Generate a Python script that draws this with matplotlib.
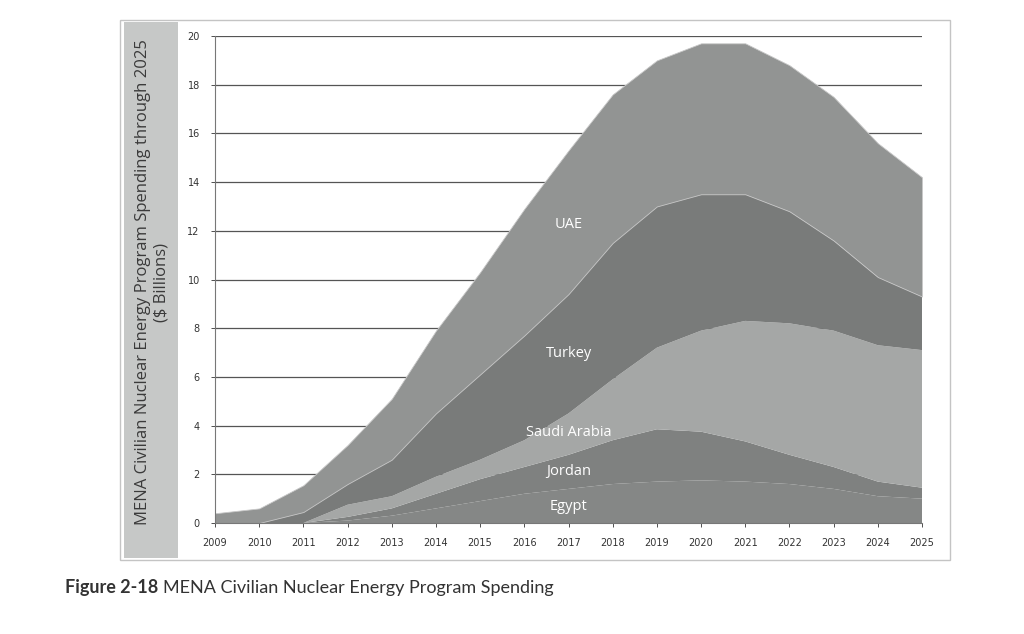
import matplotlib
matplotlib.use("Agg")
import matplotlib.pyplot as plt
from matplotlib.patches import Rectangle
import numpy as np

years = list(range(2009, 2026))
egypt  = [0, 0, 0, 0.10, 0.30, 0.60, 0.90, 1.20, 1.40, 1.60, 1.70, 1.75, 1.70, 1.60, 1.40, 1.10, 1.00]
jordan = [0, 0, 0, 0.15, 0.30, 0.60, 0.90, 1.10, 1.40, 1.80, 2.15, 2.00, 1.65, 1.20, 0.90, 0.60, 0.45]
saudi  = [0, 0, 0, 0.50, 0.50, 0.70, 0.80, 1.10, 1.70, 2.50, 3.35, 4.15, 4.95, 5.40, 5.60, 5.60, 5.65]
turkey = [0, 0, 0.45, 0.85, 1.50, 2.60, 3.50, 4.30, 4.90, 5.60, 5.80, 5.60, 5.20, 4.60, 3.70, 2.80, 2.20]
uae    = [0.40, 0.60, 1.10, 1.60, 2.50, 3.40, 4.20, 5.20, 5.90, 6.10, 6.00, 6.20, 6.20, 6.00, 5.90, 5.50, 4.90]
series_names = ["Egypt", "Jordan", "Saudi Arabia", "Turkey", "UAE"]
colors = ["#858786", "#7f8180", "#a5a7a6", "#797b7a", "#929493"]
edges = ["none", "none", "none", "none", "#c8c8c8"]
yticks = list(range(0, 21, 2))

fig = plt.figure(figsize=(10.24, 6.34), dpi=100)
W, H = 1024, 634

def fx(px): return px / W
def fy(py): return 1 - py / H

# chart frame
fig.patches.append(Rectangle((fx(120), fy(560)), 830 / W, 540 / H, transform=fig.transFigure,
                             facecolor="white", edgecolor="#c4c4c4", lw=1.0, zorder=-3))
fig.patches.append(Rectangle((fx(124), fy(558)), 54 / W, 536 / H, transform=fig.transFigure,
                             facecolor="#c6c8c7", edgecolor="none", zorder=-2))

fig.text(fx(152), fy(282), "MENA Civilian Nuclear Energy Program Spending through 2025\n($ Billions)",
         rotation=90, ha="center", va="center", fontsize=12, color="#3a3a3a",
         family="Open Sans", linespacing=1.2)

ax = fig.add_axes([fx(215), fy(523), (922 - 215) / W, (523 - 36) / H])
ax.set_zorder(1)
ax.set_facecolor("none")
polys = ax.stackplot(years, egypt, jordan, saudi, turkey, uae, colors=colors,
                     linewidth=0.6, zorder=2)
for p, ec in zip(polys, edges):
    p.set_edgecolor(ec)

ax.set_xlim(2009, 2025)
ax.set_ylim(0, 20)
ax.set_yticks(yticks)
ax.set_xticks(years)
ax.grid(axis="y", color="#555555", lw=0.9, zorder=1)
ax.set_axisbelow(True)
for s in ["top", "right"]:
    ax.spines[s].set_visible(False)
for s in ["left", "bottom"]:
    ax.spines[s].set_color("#777777")
    ax.spines[s].set_linewidth(0.8)
ax.tick_params(axis="both", labelsize=7, colors="#333333", length=3, width=0.6)
ax.tick_params(axis="x", pad=8)
ax.tick_params(axis="y", pad=8)
for lab in ax.get_xticklabels() + ax.get_yticklabels():
    lab.set_family("DejaVu Sans")

label_pos = {"UAE": 12.25, "Turkey": 6.98, "Saudi Arabia": 3.7, "Jordan": 2.1, "Egypt": 0.66}
for name in series_names:
    ax.text(2017.0, label_pos[name], name, ha="center", va="center", color="white",
            fontsize=10.5, family="Open Sans", zorder=5)

t1 = fig.text(fx(65), fy(588), "Figure 2-18", fontsize=13, fontweight="bold", color="#333333",
              family="Lato", va="center", ha="left")
fig.canvas.draw()
bb = t1.get_window_extent()
fig.text(bb.x1 / W + 5 / W, fy(588), "MENA Civilian Nuclear Energy Program Spending", fontsize=13,
         color="#333333", family="Lato", va="center", ha="left")

fig.savefig("out.png", dpi=100)
